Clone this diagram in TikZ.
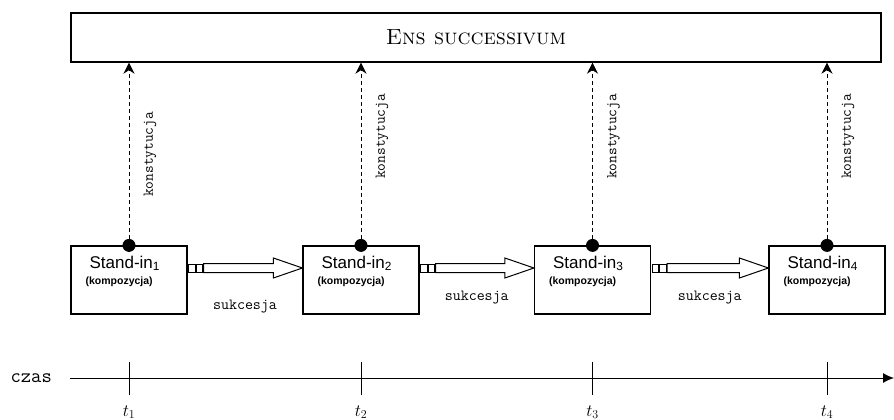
\documentclass[tikz,border=0pt]{standalone}
\usepackage{fontspec}
\newfontfamily\armfont{Liberation Sans}
\usetikzlibrary{calc}
\usetikzlibrary{positioning}
\usetikzlibrary{arrows.meta}

\begin{document}
\begin{tikzpicture}[x=1pt, y=-1pt,
    standin/.style={draw, line width=1.2pt, minimum width=116pt, minimum height=68pt, inner sep=0pt},
    joint/.style={circle, fill=black, inner sep=0pt, minimum size=13pt},
    konst/.style={font=\ttfamily\fontsize{15}{17}\selectfont, rotate=90, inner sep=0pt},
    sukc/.style={font=\ttfamily\fontsize{15.5}{17}\selectfont, inner sep=0pt},
    hollow/.style={line width=1pt, fill=white}]
        \useasboundingbox (0,0) rectangle (894,420);
        % the whole
        \node[draw, line width=1.4pt, minimum width=810pt, minimum height=49pt] (ens) at (476,37.5)
          {\fontsize{22}{24}\selectfont\textsc{Ens successivum}};
        % stand-ins with their constitution arrows
        \foreach \i/\x/\ky in {1/129/-91, 2/361/-109, 3/592.5/-109, 4/827/-109} {
          \node[standin] (s\i) at (\x,280) {};
          \node[anchor=base west, inner sep=0pt, font=\armfont\fontsize{17}{19}\selectfont]
            (n\i) at ($(s\i.north west)+(19,23)$) {Stand-in\textsubscript{\i}};
          \node[anchor=base west, inner sep=0pt, font=\armfont\bfseries\fontsize{10.5}{12}\selectfont]
            (k\i) at ($(s\i.north west)+(15,39)$) {(kompozycja)};
          \node[joint] (d\i) at (s\i.north) {};
          \draw[line width=0.9pt, dash pattern=on 4pt off 3pt, -{Stealth[length=11pt,width=11pt]}]
            (d\i) -- (d\i |- ens.south);
          \node[konst] (c\i) at ($(d\i)+(21,\ky)$) {konstytucja};
        }
        % succession arrows
        \foreach \i/\j/\sy in {1/2/27, 2/3/18, 3/4/18} {
          \coordinate (p) at ($(s\i.east)+(0,-12)$);
          \coordinate (q) at ($(s\j.west)+(0,-12)$);
          \draw[line width=0.8pt] ($(p)+(1,-4)$) rectangle ($(p)+(7.5,4)$);
          \draw[line width=0.8pt] ($(p)+(8.5,-4)$) rectangle ($(p)+(15,4)$);
          \draw[hollow] ($(p)+(16,-4.5)$) -- ($(q)+(-29,-4.5)$) -- ($(q)+(-29,-10)$) -- (q)
            -- ($(q)+(-29,10)$) -- ($(q)+(-29,4.5)$) -- ($(p)+(16,4.5)$) -- cycle;
          \node[sukc] (u\i) at ($(s\i.east)!0.5!(s\j.west)+(0,\sy)$) {sukcesja};
        }
        % time axis
        \coordinate (ax0) at (70,378);
        \coordinate (ax1) at (894,378);
        \draw[line width=1pt, -{Latex[length=11pt,width=10pt]}] (ax0) -- (ax1);
        \node[anchor=east, inner sep=0pt, font=\ttfamily\fontsize{20}{22}\selectfont] (czas) at ([xshift=-18pt]ax0) {czas};
        \foreach \i in {1,...,4} {
          \coordinate (t\i) at (s\i.south |- ax0);
          \draw[line width=1pt] ($(t\i)+(0,-16)$) -- ($(t\i)+(0,17)$);
          \node[inner sep=0pt, font=\fontsize{18}{20}\selectfont] (tl\i) at ($(t\i)+(0,34)$) {$t_{\i}$};
        }
      \end{tikzpicture}
\end{document}
